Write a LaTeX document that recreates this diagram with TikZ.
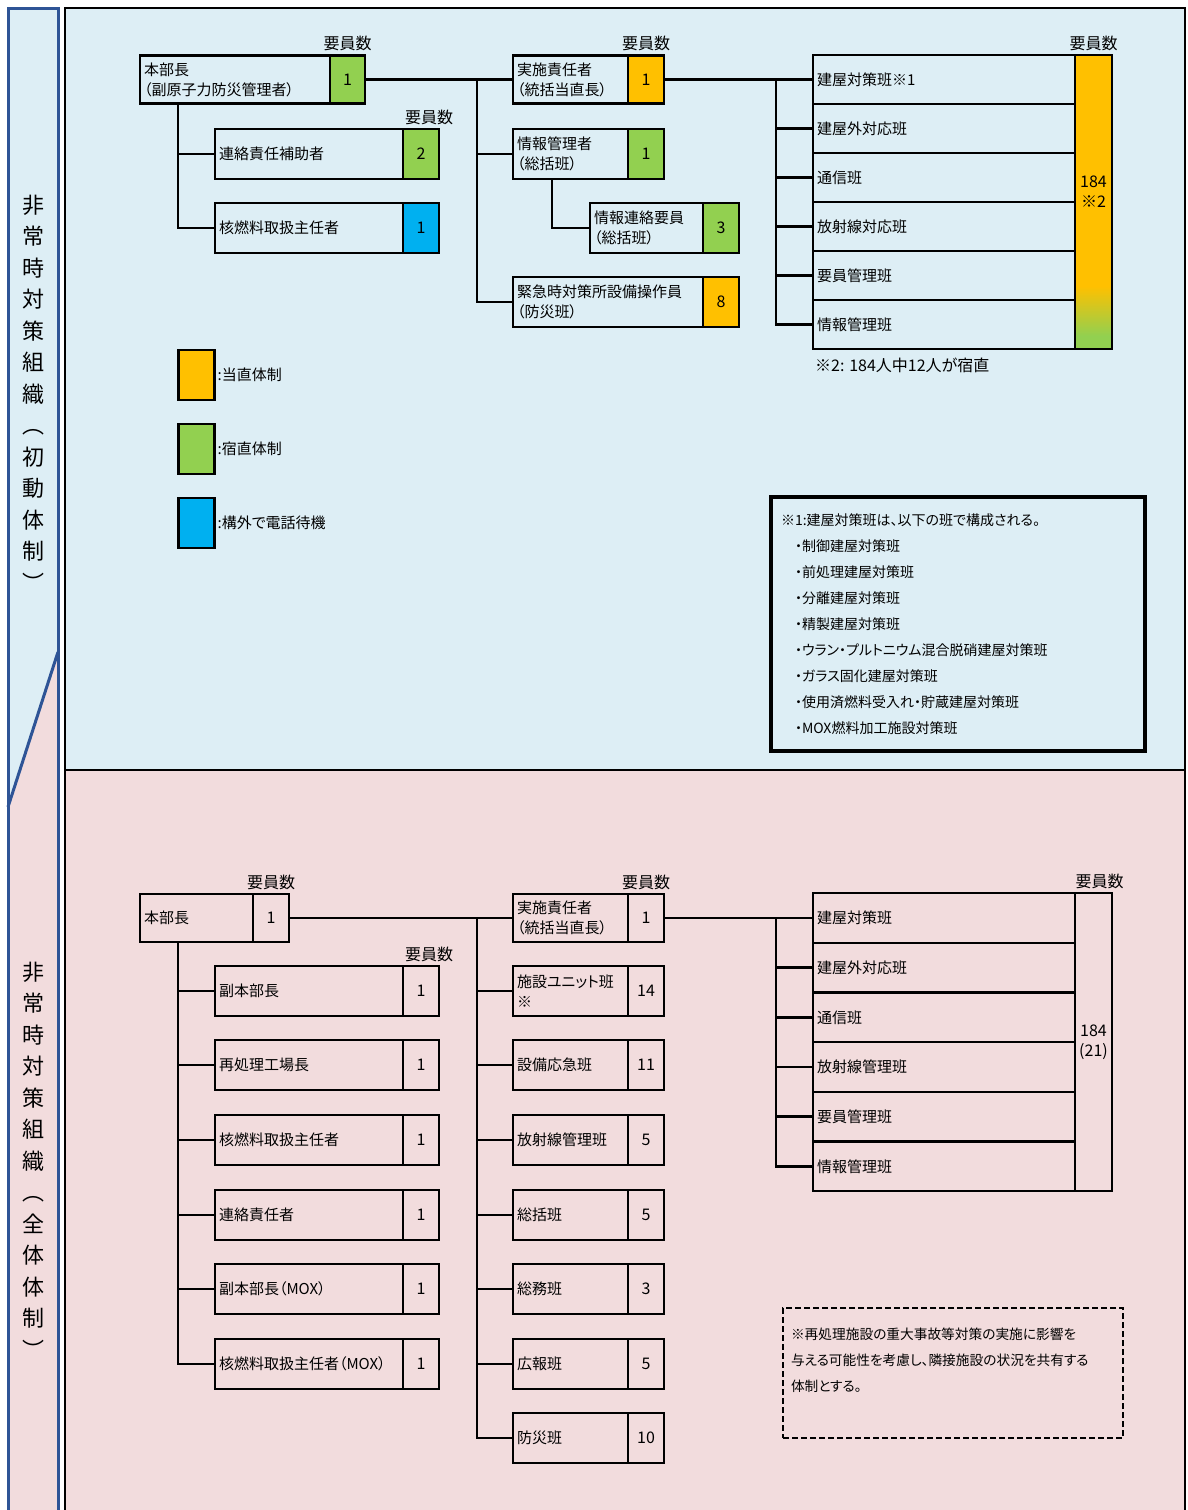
\documentclass[tikz,border=0pt]{standalone}
\usepackage{fontspec}
\setmainfont{Noto Sans CJK JP}[RawFeature=+palt]
\usetikzlibrary{positioning}
\definecolor{FondBleu}{RGB}{221,238,245}
\definecolor{FondRose}{RGB}{242,220,221}
\definecolor{Jaune}{RGB}{255,192,0}
\definecolor{Vert}{RGB}{146,208,80}
\definecolor{BleuVif}{RGB}{0,176,240}
\definecolor{BleuCadre}{RGB}{46,84,150}
\tikzset{poste/.style={rectangle, draw=black, line width=2.5pt, outer sep=0pt,
  inner xsep=4pt, inner ysep=0pt, text width=#1, align=left, minimum height=50pt,
  font=\fontsize{15}{20}\selectfont, anchor=west}}
\tikzset{nb/.style={rectangle, draw=black, line width=2.5pt, outer sep=0pt, fill=#1,
  minimum width=36pt, minimum height=50pt, inner sep=0pt, align=center,
  font=\fontsize{16}{20}\selectfont}, nb/.default=none}
\tikzset{titre/.style={font=\fontsize{16}{18}\selectfont, inner sep=0pt}}
\tikzset{legende/.style={font=\fontsize{15}{18}\selectfont, inner sep=0pt}}
\tikzset{lien/.style={draw=black, line width=2.5pt}}
\tikzset{bandeau/.style={font=\fontsize{22}{31.5}\selectfont, align=center, inner sep=0pt}}
\tikzset{degrade/.style={path picture={
  \foreach \k [evaluate=\k as \p using {int(max(0,min(100,(\k-12)*2)))}] in {0,...,64}
    \fill[Jaune!\p!Vert] ([yshift=\k pt]path picture bounding box.south west)
      rectangle ([yshift=\k pt+1.3pt]path picture bounding box.south east);}}}

\begin{document}
\begin{tikzpicture}[x=1pt, y=-1pt]
\useasboundingbox (0,0) rectangle (1187,1510);
\fill[white] (0,0) rectangle (1187,1510);
% bandeau de gauche
\fill[FondBleu] (8,8) -- (58,8) -- (58,652) -- (8,807) -- cycle;
\fill[FondRose] (8,807) -- (58,652) -- (58,1512) -- (8,1512) -- cycle;
\draw[BleuCadre, line width=3pt] (8,8) rectangle (58,1514);
\draw[BleuCadre, line width=3pt] (58,652) -- (8,807);
\node[bandeau] (ban1) at (33,393) {非\\常\\時\\対\\策\\組\\織\\︵\\初\\動\\体\\制\\︶};
\node[bandeau] (ban2) at (33,1160) {非\\常\\時\\対\\策\\組\\織\\︵\\全\\体\\体\\制\\︶};
% panneaux
\draw[fill=FondBleu, line width=2pt] (65,8) rectangle (1185,770);
\draw[fill=FondRose, line width=2pt] (65,770) rectangle (1185,1514);

% ---- initial
\node[poste=182, minimum height=48] (hb) at (140,79.5) {本部長\\（副原子力防災管理者）};
\node[nb=Vert, minimum height=48, minimum width=35, right=0pt of hb] (hbn) {1};
\node[titre, above=4pt of hbn] (hbt) {要員数};
\node[poste=180] (rs) at (215,154) {連絡責任補助者};
\node[nb=Vert, right=0pt of rs] (rsn) {2};
\node[titre, above=4pt of rsn, xshift=8pt] (rst) {要員数};
\node[poste=180] (kn) at (215,228) {核燃料取扱主任者};
\node[nb=BleuVif, right=0pt of kn] (knn) {1};

\node[poste=107, minimum height=48] (js) at (513,79.5) {実施責任者\\（統括当直長）};
\node[nb=Jaune, minimum height=48, right=0pt of js] (jsn) {1};
\node[titre, above=4pt of jsn] (jst) {要員数};
\node[poste=107] (jk) at (513,154) {情報管理者\\（総括班）};
\node[nb=Vert, right=0pt of jk] (jkn) {1};
\node[poste=105] (jr) at (590,228) {情報連絡要員\\（総括班）};
\node[nb=Vert, right=0pt of jr] (jrn) {3};
\node[poste=182] (km) at (513,302) {緊急時対策所設備操作員\\（防災班）};
\node[nb=Jaune, right=0pt of km] (kmn) {8};

\node[poste=254, minimum height=49] (t1) at (813,79.5) {建屋対策班※1};
\node[poste=254, minimum height=49, below=0pt of t1] (t2) {建屋外対応班};
\node[poste=254, minimum height=49, below=0pt of t2] (t3) {通信班};
\node[poste=254, minimum height=49, below=0pt of t3] (t4) {放射線対応班};
\node[poste=254, minimum height=49, below=0pt of t4] (t5) {要員管理班};
\node[poste=254, minimum height=49, below=0pt of t5] (t6) {情報管理班};
\node[nb=Jaune, degrade, minimum width=37, minimum height=294, anchor=north west]
  (tn) at (t1.north east) {184\\※2\\\mbox{}};
\node[titre, above=4pt of tn] (tnt) {要員数};
\node[anchor=west, font=\fontsize{16}{18}\selectfont, inner sep=0pt] (rem2) at (815,365) {※2: 184人中12人が宿直};

\draw[lien] (hbn.east) -- (js.west);
\draw[lien] ([xshift=38pt]hb.south west) |- (rs.west);
\draw[lien] ([xshift=38pt]hb.south west) |- (kn.west);
\coordinate (b1) at (477,79.5);
\draw[lien] (b1) |- (jk.west);
\draw[lien] (b1) |- (km.west);
\draw[lien] ([xshift=39pt]jk.south west) |- (jr.west);
\draw[lien] (jsn.east) -- (t1.west);
\coordinate (b2) at (776,79.5);
\foreach \i in {2,...,6} \draw[lien] (b2) |- (t\i.west);

% legende
\node[nb=Jaune] (lg1) at (196.5,375) {};
\node[legende, right=3pt of lg1] (lgt1) {:当直体制};
\node[nb=Vert] (lg2) at (196.5,449) {};
\node[legende, right=3pt of lg2] (lgt2) {:宿直体制};
\node[nb=BleuVif] (lg3) at (196.5,523) {};
\node[legende, right=3pt of lg3] (lgt3) {:構外で電話待機};

\node[draw, line width=3.5pt, outer sep=0pt, anchor=north west, minimum width=374,
  minimum height=254, text width=354, inner xsep=10, align=left,
  font=\fontsize{14}{26}\selectfont] (rem1) at (771,497)
  {※1:建屋対策班は、以下の班で構成される。\\
   \hspace*{14pt}・制御建屋対策班\\
   \hspace*{14pt}・前処理建屋対策班\\
   \hspace*{14pt}・分離建屋対策班\\
   \hspace*{14pt}・精製建屋対策班\\
   \hspace*{14pt}・ウラン・プルトニウム混合脱硝建屋対策班\\
   \hspace*{14pt}・ガラス固化建屋対策班\\
   \hspace*{14pt}・使用済燃料受入れ・貯蔵建屋対策班\\
   \hspace*{14pt}・MOX燃料加工施設対策班};

% ---- ensemble
\node[poste=105, minimum height=48] (bb) at (140,918) {本部長};
\node[nb, minimum height=48, right=0pt of bb] (bbn) {1};
\node[titre, above=4pt of bbn] (bbt) {要員数};
\node[poste=180] (g1) at (215,991) {副本部長};
\node[nb, right=0pt of g1] (g1n) {1};
\node[titre, above=4pt of g1n, xshift=8pt] (g1t) {要員数};
\node[poste=180] (g2) at (215,1065) {再処理工場長};
\node[nb, right=0pt of g2] (g2n) {1};
\node[poste=180] (g3) at (215,1140) {核燃料取扱主任者};
\node[nb, right=0pt of g3] (g3n) {1};
\node[poste=180] (g4) at (215,1215) {連絡責任者};
\node[nb, right=0pt of g4] (g4n) {1};
\node[poste=180] (g5) at (215,1289) {副本部長（MOX）};
\node[nb, right=0pt of g5] (g5n) {1};
\node[poste=180] (g6) at (215,1364) {核燃料取扱主任者（MOX）};
\node[nb, right=0pt of g6] (g6n) {1};

\node[poste=107, minimum height=48] (m1) at (513,918) {実施責任者\\（統括当直長）};
\node[nb, minimum height=48, right=0pt of m1] (m1n) {1};
\node[titre, above=4pt of m1n] (m1t) {要員数};
\node[poste=107] (m2) at (513,991) {施設ユニット班\\※};
\node[nb, right=0pt of m2] (m2n) {14};
\node[poste=107] (m3) at (513,1065) {設備応急班};
\node[nb, right=0pt of m3] (m3n) {11};
\node[poste=107] (m4) at (513,1140) {放射線管理班};
\node[nb, right=0pt of m4] (m4n) {5};
\node[poste=107] (m5) at (513,1215) {総括班};
\node[nb, right=0pt of m5] (m5n) {5};
\node[poste=107] (m6) at (513,1289) {総務班};
\node[nb, right=0pt of m6] (m6n) {3};
\node[poste=107] (m7) at (513,1364) {広報班};
\node[nb, right=0pt of m7] (m7n) {5};
\node[poste=107] (m8) at (513,1438) {防災班};
\node[nb, right=0pt of m8] (m8n) {10};

\node[poste=254, minimum height=49.67] (r1) at (813,918) {建屋対策班};
\node[poste=254, minimum height=49.67, below=0pt of r1] (r2) {建屋外対応班};
\node[poste=254, minimum height=49.67, below=0pt of r2] (r3) {通信班};
\node[poste=254, minimum height=49.67, below=0pt of r3] (r4) {放射線管理班};
\node[poste=254, minimum height=49.67, below=0pt of r4] (r5) {要員管理班};
\node[poste=254, minimum height=49.67, below=0pt of r5] (r6) {情報管理班};
\node[nb, minimum width=37, minimum height=298, anchor=north west] (rn) at (r1.north east) {184\\(21)};
\node[titre, above=4pt of rn, xshift=6pt] (rnt) {要員数};

\draw[lien] (bbn.east) -- (m1.west);
\foreach \i in {1,...,6} \draw[lien] ([xshift=38pt]bb.south west) |- (g\i.west);
\coordinate (b3) at (477,918);
\foreach \i in {2,...,8} \draw[lien] (b3) |- (m\i.west);
\draw[lien] (m1n.east) -- (r1.west);
\coordinate (b4) at (776,918);
\foreach \i in {2,...,6} \draw[lien] (b4) |- (r\i.west);

\node[draw, dashed, dash pattern=on 6pt off 3pt, line width=2pt, outer sep=0pt,
  anchor=north west, minimum width=340, minimum height=130, text width=324,
  inner xsep=8, align=left, font=\fontsize{13.7}{26}\selectfont] (rem3) at (783,1308)
  {※再処理施設の重大事故等対策の実施に影響を\\与える可能性を考慮し、隣接施設の状況を共有する\\体制とする。\\\mbox{}};
\end{tikzpicture}
\end{document}
